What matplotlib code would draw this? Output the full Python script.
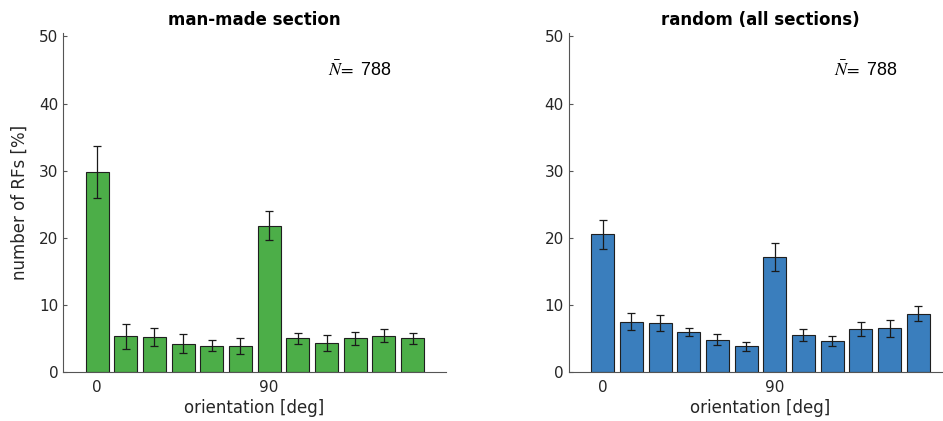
import numpy as np
import matplotlib
matplotlib.use("Agg")
import matplotlib.pyplot as plt

# Orientation bins (deg) and RF percentages with standard errors
orientations = np.arange(0, 180, 15)
tick_positions = [0, 90]
tick_labels = ["0", "90"]

manmade_pct = [29.8, 5.3, 5.2, 4.2, 3.9, 3.9, 21.8, 5.0, 4.3, 5.0, 5.4, 5.0]
manmade_err = [3.9, 1.9, 1.3, 1.4, 0.8, 1.2, 2.2, 0.8, 1.2, 1.0, 1.0, 0.8]

random_pct = [20.5, 7.5, 7.3, 5.9, 4.8, 3.8, 17.1, 5.5, 4.6, 6.4, 6.5, 8.7]
random_err = [2.2, 1.3, 1.25, 0.6, 0.85, 0.7, 2.1, 0.9, 0.7, 1.05, 1.3, 1.1]

n_mean = 788

plt.rcParams["font.family"] = "DejaVu Sans"
plt.rcParams["mathtext.fontset"] = "stix"

fig = plt.figure(figsize=(9.43, 4.21), dpi=100)
ax1 = fig.add_axes([0.0668, 0.1164, 0.406, 0.805])
ax2 = fig.add_axes([0.603, 0.1164, 0.406, 0.805])


def draw_panel(ax, values, errors, color, title):
    ax.bar(orientations, values, width=12, color=color, edgecolor="#1f1f1f",
           linewidth=0.8, zorder=2)
    ax.errorbar(orientations, values, yerr=errors, fmt="none", ecolor="#1a1a1a",
                elinewidth=0.9, capsize=3, capthick=0.9, zorder=3)
    ax.set_xlim(-17.8, 182.4)
    ax.set_ylim(0, 50.5)
    ax.set_yticks([0, 10, 20, 30, 40, 50])
    ax.set_xticks(tick_positions)
    ax.set_xticklabels(tick_labels)
    for side in ["top", "right"]:
        ax.spines[side].set_visible(False)
    for side in ["left", "bottom"]:
        ax.spines[side].set_color("#555555")
        ax.spines[side].set_linewidth(0.8)
    ax.tick_params(axis="y", direction="in", length=3, color="#555555",
                   labelsize=11, labelcolor="#262626")
    ax.tick_params(axis="x", length=0, labelsize=11, labelcolor="#262626", pad=6)
    ax.set_xlabel("orientation [deg]", fontsize=12, color="#262626", labelpad=3)
    ax.set_title(title, fontsize=12, fontweight="bold", pad=6)
    ax.text(121, 45, r"$\bar{N}\!=$" + f" {n_mean}", fontsize=13,
            family="Liberation Sans", ha="left", va="center")


draw_panel(ax1, manmade_pct, manmade_err, "#4cae48", "man-made section")
draw_panel(ax2, random_pct, random_err, "#3a7ebd", "random (all sections)")
ax1.set_ylabel("number of RFs [%]", fontsize=12, color="#262626", labelpad=7)

fig.savefig("out.png", dpi=100)
